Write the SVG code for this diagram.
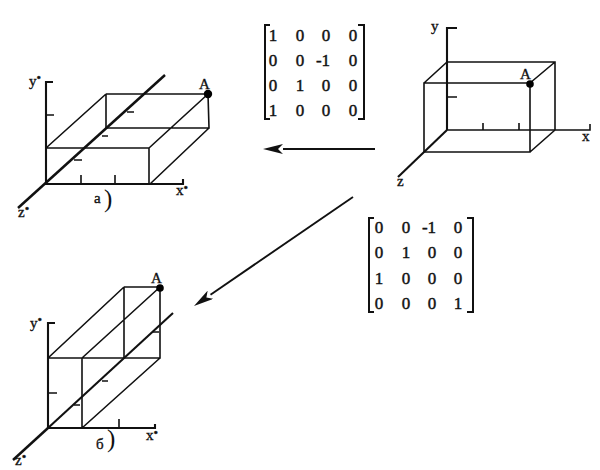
<svg xmlns="http://www.w3.org/2000/svg" width="600" height="470" viewBox="0 0 600 470">
<defs>
<style>
.ln{fill:none;stroke:#111;stroke-width:1.6}
.ax{fill:none;stroke:#111;stroke-width:2.1}
.hv{fill:none;stroke:#111;stroke-width:2.5}
.br{fill:none;stroke:#111;stroke-width:2}
.ar{fill:none;stroke:#111;stroke-width:1.9}
.lb{font-family:"Liberation Serif","Times New Roman",serif;font-size:15px;fill:#111;stroke:#111;stroke-width:.35}
.m{font-family:"Liberation Serif","Times New Roman",serif;font-size:17px;fill:#111;text-anchor:middle;stroke:#111;stroke-width:.45}
.par{font-family:"Liberation Serif","Times New Roman",serif;font-size:25px;fill:#111}
.dot{fill:#000}
</style>
<marker id="ah" viewBox="0 0 20 10" refX="0" refY="5" markerWidth="20" markerHeight="10" markerUnits="userSpaceOnUse" orient="auto-start-reverse"><path d="M20,5 L0,0 L5,5 L0,10 Z" fill="#111"/></marker>
</defs>
<rect width="600" height="470" fill="#fff"/>

<g id="figure-source">
<path class="ax" d="M457,28H447V130"/>
<path class="ax" d="M447,130L398,177"/>
<path class="ln" d="M447,130H590V124"/>
<path class="ln" d="M447,62H555V130M424,83H530V152H424ZM424,83L447,62M530,83L555,62M530,152L555,130"/>
<path class="ln" d="M447,97H457M483,123V130M519,123V130"/>
<circle class="dot" cx="530" cy="84" r="3.8"/>
<text class="lb" x="431" y="31">y</text>
<text class="lb" x="582" y="141">x</text>
<text class="lb" x="397" y="186">z</text>
<text class="lb" x="520" y="79">A</text>
</g>

<g id="figure-a">
<path class="ax" d="M53,82H46V184H183V179"/>
<path class="hv" d="M18,208L165,75"/>
<path class="ln" d="M46,148H149V184M106,94H208L209,128H106V94M46,148L106,94M149,148L208,94M150,184L209,128"/>
<path class="ln" d="M46,115H54M81,175V184M115,175V184M74,160H82M102,136H108M127,112H134"/>
<circle class="dot" cx="208" cy="94" r="4.2"/>
<text class="lb" x="29" y="86">y<tspan font-size="13" dy="-4">•</tspan></text>
<text class="lb" x="176" y="195">x<tspan font-size="13" dy="-3">•</tspan></text>
<text class="lb" x="18" y="217">z<tspan font-size="13" dy="-4">•</tspan></text>
<text class="lb" x="199" y="89">A</text>
<text class="lb" x="94" y="203">a</text>
<text class="par" x="104" y="207">)</text>
</g>

<g id="figure-b">
<path class="ax" d="M55,323H48V428H155V424"/>
<path class="hv" d="M13,460L48,428"/>
<path class="ax" d="M48,428L173,313"/>
<path class="ln" d="M48,358H82V428M124,287H160V358H82M124,287V358M48,358L124,287M82,358L160,287M82,428L160,358"/>
<path class="ln" d="M48,393H57M119,419V428M74,405H80M102,381H108M153,332H159"/>
<circle class="dot" cx="160" cy="288" r="3.8"/>
<text class="lb" x="30" y="328">y<tspan font-size="13" dy="-4">•</tspan></text>
<text class="lb" x="146" y="440">x<tspan font-size="13" dy="-3">•</tspan></text>
<text class="lb" x="15" y="465">z<tspan font-size="13" dy="-4">•</tspan></text>
<text class="lb" x="151" y="283">A</text>
<text class="lb" x="96" y="449">б</text>
<text class="par" x="107" y="447" font-size="20">)</text>
</g>

<g id="matrix-1">
<path class="br" d="M270,25H265V119H270M358,25H364V119H358"/>
<text class="m" x="273" y="41">1</text><text class="m" x="300" y="41">0</text><text class="m" x="326" y="41">0</text><text class="m" x="353" y="41">0</text>
<text class="m" x="273" y="66">0</text><text class="m" x="300" y="66">0</text><text class="m" x="323" y="66">-1</text><text class="m" x="353" y="66">0</text>
<text class="m" x="273" y="91">0</text><text class="m" x="300" y="91">1</text><text class="m" x="326" y="91">0</text><text class="m" x="353" y="91">0</text>
<text class="m" x="273" y="116">1</text><text class="m" x="300" y="116">0</text><text class="m" x="326" y="116">0</text><text class="m" x="353" y="116">0</text>
</g>

<g id="matrix-2">
<path class="br" d="M374,218H369V312H374M467,218H473V312H467"/>
<text class="m" x="379" y="233">0</text><text class="m" x="406" y="233">0</text><text class="m" x="429" y="233">-1</text><text class="m" x="458" y="233">0</text>
<text class="m" x="379" y="258">0</text><text class="m" x="406" y="258">1</text><text class="m" x="432" y="258">0</text><text class="m" x="458" y="258">0</text>
<text class="m" x="379" y="284">1</text><text class="m" x="406" y="284">0</text><text class="m" x="432" y="284">0</text><text class="m" x="458" y="284">0</text>
<text class="m" x="379" y="309">0</text><text class="m" x="406" y="309">0</text><text class="m" x="432" y="309">0</text><text class="m" x="458" y="309">1</text>
</g>

<g id="connectors">
<line class="ar" x1="375" y1="149" x2="283" y2="149" marker-end="url(#ah)"/>
<line class="ar" x1="353" y1="197" x2="210.500" y2="294.700" marker-end="url(#ah)"/>
</g>
</svg>
